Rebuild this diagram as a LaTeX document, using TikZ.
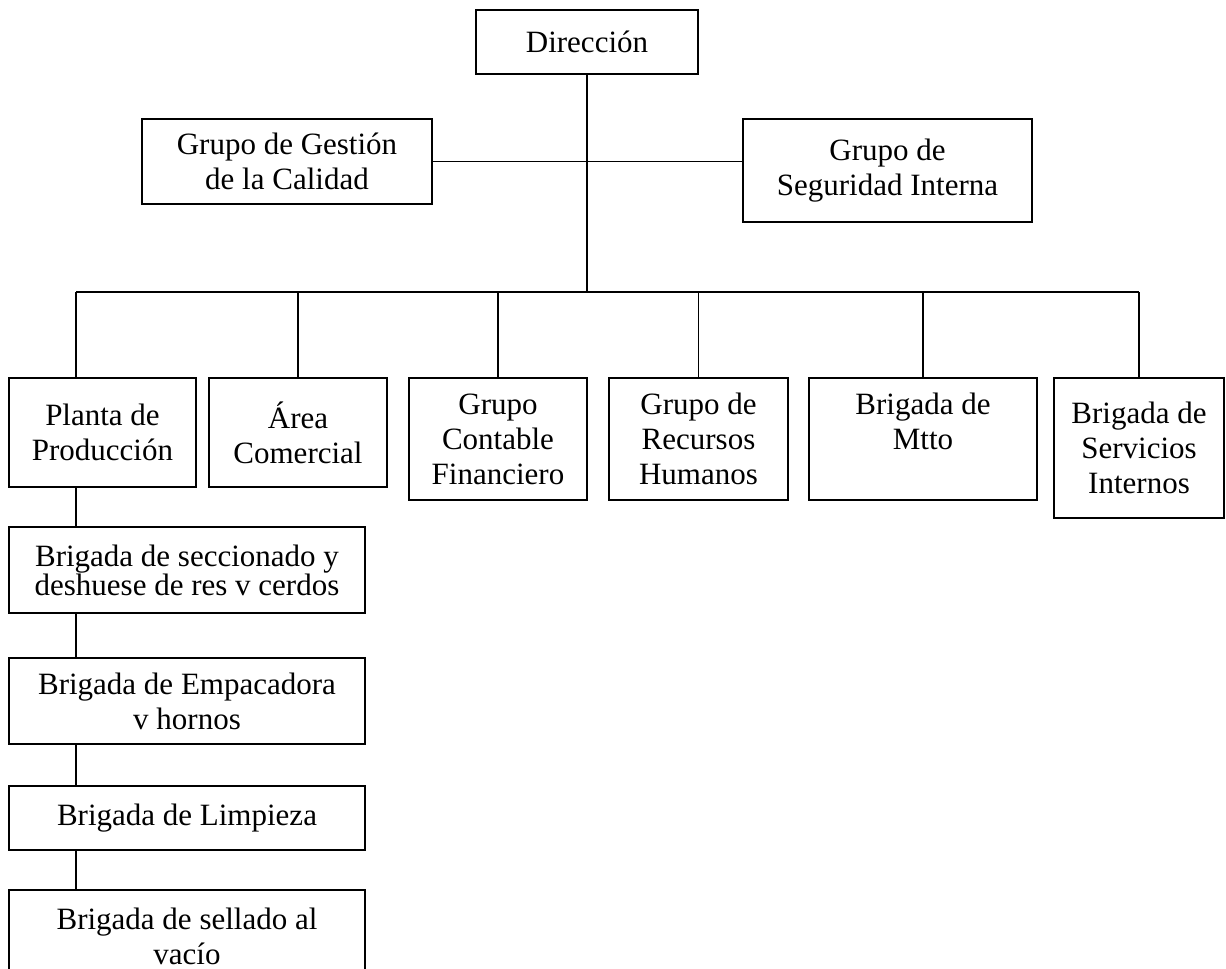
\documentclass[tikz,border=0pt]{standalone}
\usepackage{fontspec}
\setmainfont{Liberation Serif}
\begin{document}
\begin{tikzpicture}[x=1pt,y=-1pt,
  box/.style={draw, line width=1.6pt, align=center, inner sep=0pt,
              font=\fontsize{31}{35}\selectfont},
  tightbox/.style={box, font=\fontsize{31}{27}\selectfont},
  link/.style={line width=1.6pt}]
\useasboundingbox (0,0) rectangle (1226,969);
\clip (0,0) rectangle (1226,969);

% top management
\node[box, minimum width=222, minimum height=64]  (dir) at (587,42)    {Dirección};
\node[box, minimum width=290, minimum height=85]  (ges) at (287,161.5) {Grupo de Gestión\\de la Calidad};
\node[box, minimum width=289, minimum height=103] (seg) at (887.5,170.5) {Grupo de\\Seguridad Interna};

% departments
\node[box, minimum width=187, minimum height=109] (pla) at (102.5,432.5) {Planta de\\Producción};
\node[box, minimum width=178, minimum height=109] (are) at (298,432.5)   {Área\\Comercial};
\node[box, minimum width=178, minimum height=122] (con) at (498,439)     {Grupo\\Contable\\Financiero};
\node[box, minimum width=179, minimum height=122] (rrh) at (698.5,439)   {Grupo de\\Recursos\\Humanos};
\node[box, minimum width=228, minimum height=122] (mtt) at (923,439)     {Brigada de\\Mtto\\\mbox{}};
\node[box, minimum width=170, minimum height=140] (ser) at (1139,448)    {Brigada de\\Servicios\\Internos};

% production brigades
\node[tightbox, minimum width=356, minimum height=86] (sec) at (187,570) {Brigada de seccionado y\\deshuese de res v cerdos};
\node[box, minimum width=356, minimum height=86] (emp) at (187,701) {Brigada de Empacadora\\v hornos};
\node[box, minimum width=356, minimum height=64] (lim) at (187,818) {Brigada de Limpieza};
\node[box, minimum width=356, minimum height=92] (sel) at (187,936) {Brigada de sellado al\\vacío};

% connectors
\coordinate (bus) at (587,292);
\coordinate (px) at (76,0);
\draw[link] (dir.south) -- (bus);
\draw[link] (ges.east) -- (ges.east -| seg.west);
\draw[link] (px |- bus) -- (ser.north |- bus);
\draw[link] (px |- bus) -- (px |- pla.north);
\foreach \n in {are,con,rrh,mtt,ser}
  \draw[link] (\n.north |- bus) -- (\n.north);
\draw[link] (px |- pla.south) -- (px |- sec.north);
\draw[link] (px |- sec.south) -- (px |- emp.north);
\draw[link] (px |- emp.south) -- (px |- lim.north);
\draw[link] (px |- lim.south) -- (px |- sel.north);
\end{tikzpicture}
\end{document}
